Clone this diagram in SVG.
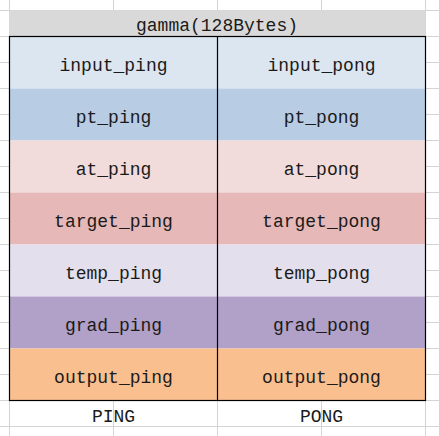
<svg xmlns="http://www.w3.org/2000/svg" width="439" height="436" viewBox="0 0 439 436">
<style>
.grid{stroke:#d4d4d4;stroke-width:1;fill:none}
.t{font-family:"Liberation Mono","DejaVu Sans Mono",monospace;font-size:18px;fill:#1a1a1a;text-anchor:middle}
.b{stroke:#000;stroke-width:1.2;fill:none}
</style>
<rect width="439" height="436" fill="#fff"/>
<g id="grid" class="grid">
<path d="M0 10.5H439M0 36.5H439M0 62.5H9M426 62.5H439M0 88.5H9M426 88.5H439M0 114.5H9M426 114.5H439M0 140.5H9M426 140.5H439M0 166.5H9M426 166.5H439M0 192.5H9M426 192.5H439M0 218.5H9M426 218.5H439M0 244.5H9M426 244.5H439M0 270.5H9M426 270.5H439M0 296.5H9M426 296.5H439M0 322.5H9M426 322.5H439M0 348.5H9M426 348.5H439M0 374.5H9M426 374.5H439M0 400.5H439M0 426.5H439"/>
<path d="M9.5 0V436M425.5 0V436M113.5 0V10M217.5 0V10M321.5 0V10M113.5 400V436M217.5 400V436M321.5 400V436"/>
</g>
<g id="header">
<rect x="9.5" y="10.5" width="416" height="26" fill="#d9d9d9"/>
<text class="t" x="217" y="31">gamma(128Bytes)</text>
</g>
<g id="row-input">
<rect x="9.5" y="36.5" width="416" height="52" fill="#dce6f1"/>
<text class="t" x="113.5" y="71">input_ping</text>
<text class="t" x="321.5" y="71">input_pong</text>
</g>
<g id="row-pt">
<rect x="9.5" y="88.5" width="416" height="52" fill="#b8cce4"/>
<text class="t" x="113.5" y="123">pt_ping</text>
<text class="t" x="321.5" y="123">pt_pong</text>
</g>
<g id="row-at">
<rect x="9.5" y="140.5" width="416" height="52" fill="#f2dcdb"/>
<text class="t" x="113.5" y="175">at_ping</text>
<text class="t" x="321.5" y="175">at_pong</text>
</g>
<g id="row-target">
<rect x="9.5" y="192.5" width="416" height="52" fill="#e6b8b7"/>
<text class="t" x="113.5" y="227">target_ping</text>
<text class="t" x="321.5" y="227">target_pong</text>
</g>
<g id="row-temp">
<rect x="9.5" y="244.5" width="416" height="52" fill="#e4dfec"/>
<text class="t" x="113.5" y="279">temp_ping</text>
<text class="t" x="321.5" y="279">temp_pong</text>
</g>
<g id="row-grad">
<rect x="9.5" y="296.5" width="416" height="52" fill="#b1a0c7"/>
<text class="t" x="113.5" y="331">grad_ping</text>
<text class="t" x="321.5" y="331">grad_pong</text>
</g>
<g id="row-output">
<rect x="9.5" y="348.5" width="416" height="52" fill="#fabf8f"/>
<text class="t" x="113.5" y="383">output_ping</text>
<text class="t" x="321.5" y="383">output_pong</text>
</g>
<g id="borders" class="b">
<rect x="9.5" y="36.5" width="416" height="364"/>
<path d="M217.5 36.5V400.5"/>
</g>
<g id="footer">
<text class="t" x="113.5" y="422">PING</text>
<text class="t" x="321.5" y="422">PONG</text>
</g>
</svg>
